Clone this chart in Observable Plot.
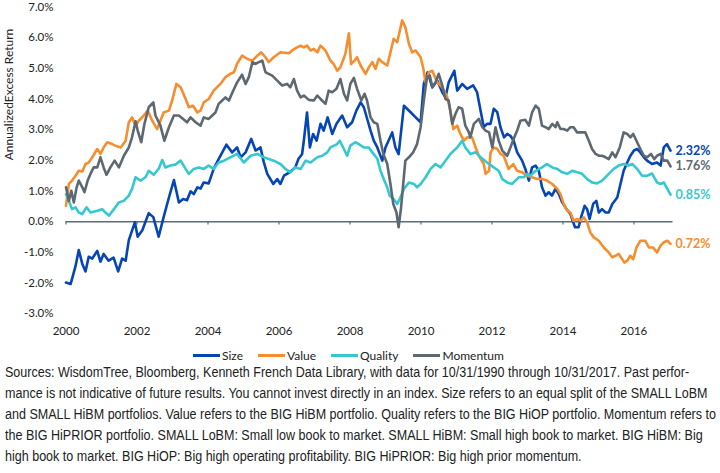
<!DOCTYPE html>
<html>
<head>
<meta charset="utf-8">
<script src="https://cdn.jsdelivr.net/npm/d3@7"></script>
<script src="https://cdn.jsdelivr.net/npm/@observablehq/plot@0.6"></script>
<style>
  html, body { margin: 0; padding: 0; background: #fff; }
  #wrap { position: relative; width: 720px; height: 473px; overflow: hidden; font-family: Lato, "Open Sans", sans-serif; }
  #legend { position: absolute; top: 345px; left: 193px; height: 20px; display: flex; align-items: center; font-size: 12px; color: #222; }
  .item { display: flex; align-items: center; margin-right: 15px; }
  .sw { width: 27px; height: 3px; margin-right: 2px; }
  #caption { position: absolute; top: 362px; left: 5px; transform-origin: 0 0; font-family: "Liberation Sans Narrow", "Arial Narrow", "Liberation Sans", Arial, sans-serif; font-size: 14px; line-height: 21px; color: #222; }
  #caption div { white-space: nowrap; }
</style>
</head>
<body>
<div id="wrap">
  <div id="chart"></div>
  <div id="legend"></div>
  <div id="caption"></div>
</div>
<script>
// ---- data (decimal years, annualized excess return in %) ----
const seriesNames = ["Size", "Value", "Quality", "Momentum"];
const seriesColors = ["#0645B4", "#F68D2E", "#36C8D0", "#5E6870"];
const endLabels = ["2.32%", "0.72%", "0.85%", "1.76%"];
const xTicks = [2000, 2002, 2004, 2006, 2008, 2010, 2012, 2014, 2016];
const yTicks = [-3, -2, -1, 0, 1, 2, 3, 4, 5, 6, 7];
const yTitle = "AnnualizedExcess Return";

const sizeDates = [2000.00,2000.13,2000.27,2000.36,2000.46,2000.55,2000.64,2000.74,2000.88,2000.97,2001.06,2001.20,2001.34,2001.47,2001.58,2001.68,2001.77,2001.94,2002.02,2002.15,2002.33,2002.46,2002.61,2002.75,2002.90,2003.04,2003.18,2003.30,2003.41,2003.51,2003.60,2003.70,2003.79,2003.88,2004.02,2004.16,2004.30,2004.52,2004.68,2004.82,2004.92,2005.06,2005.22,2005.34,2005.48,2005.57,2005.67,2005.84,2005.95,2006.04,2006.14,2006.30,2006.46,2006.55,2006.65,2006.70,2006.79,2006.87,2006.96,2007.06,2007.17,2007.26,2007.37,2007.50,2007.62,2007.78,2007.92,2008.06,2008.18,2008.30,2008.39,2008.50,2008.58,2008.67,2008.77,2008.91,2009.00,2009.19,2009.28,2009.37,2009.52,2009.68,2009.85,2009.99,2010.08,2010.19,2010.32,2010.46,2010.60,2010.69,2010.78,2010.94,2011.02,2011.16,2011.30,2011.47,2011.58,2011.68,2011.77,2011.86,2011.96,2012.05,2012.15,2012.24,2012.34,2012.43,2012.52,2012.61,2012.71,2012.85,2012.94,2013.04,2013.13,2013.23,2013.32,2013.41,2013.51,2013.60,2013.69,2013.79,2013.88,2013.98,2014.10,2014.21,2014.29,2014.34,2014.44,2014.51,2014.61,2014.68,2014.75,2014.85,2014.94,2015.01,2015.10,2015.20,2015.29,2015.39,2015.53,2015.62,2015.71,2015.81,2015.90,2016.00,2016.09,2016.18,2016.28,2016.37,2016.51,2016.65,2016.75,2016.84,2016.93,2017.03];
const sizeValues = [-1.98,-2.03,-1.44,-0.92,-1.38,-1.62,-1.14,-1.20,-0.95,-1.30,-1.05,-1.27,-1.17,-1.62,-1.20,-1.27,-0.60,-0.02,-0.49,-0.28,0.28,0.15,-0.49,0.15,0.79,1.36,0.63,0.74,0.70,0.99,0.90,1.12,1.08,1.28,1.25,1.72,2.04,2.51,2.26,2.42,2.10,2.26,2.70,2.32,2.42,1.95,1.56,1.23,1.39,1.23,1.50,1.61,1.77,2.05,2.20,2.64,3.56,2.42,2.86,2.64,3.19,2.97,3.40,2.86,3.19,3.46,3.08,3.24,3.62,3.89,3.73,3.29,2.97,2.64,2.42,1.99,2.42,2.91,2.42,2.20,3.78,3.60,3.40,3.24,4.49,4.87,4.38,4.60,4.22,4.05,4.54,4.92,4.27,4.49,4.33,4.44,4.22,3.62,3.08,3.19,3.19,3.68,3.57,3.08,2.75,2.86,2.80,2.64,2.26,1.99,1.72,1.34,1.77,1.83,1.66,1.12,0.85,0.96,0.85,1.07,0.91,0.63,0.41,0.25,-0.02,-0.18,-0.18,0.14,0.52,0.41,0.09,0.58,0.68,0.30,0.41,0.30,0.30,0.58,0.79,1.23,1.66,1.93,2.15,2.32,2.37,2.26,2.10,1.99,1.88,1.93,1.83,2.42,2.53,2.32];

const valueDates = [2000.00,2000.08,2000.17,2000.27,2000.36,2000.46,2000.55,2000.64,2000.74,2000.88,2000.97,2001.06,2001.16,2001.30,2001.39,2001.54,2001.68,2001.77,2001.86,2001.96,2002.05,2002.19,2002.30,2002.43,2002.57,2002.66,2002.75,2002.90,2002.99,2003.11,2003.23,2003.37,2003.46,2003.58,2003.70,2003.79,2003.88,2004.02,2004.16,2004.35,2004.49,2004.63,2004.73,2004.82,2004.96,2005.10,2005.25,2005.39,2005.50,2005.62,2005.71,2005.85,2006.04,2006.28,2006.37,2006.51,2006.61,2006.70,2006.79,2006.89,2006.98,2007.08,2007.17,2007.31,2007.45,2007.54,2007.64,2007.73,2007.87,2007.97,2008.03,2008.13,2008.20,2008.30,2008.44,2008.53,2008.63,2008.72,2008.81,2008.91,2009.05,2009.14,2009.23,2009.33,2009.47,2009.56,2009.66,2009.75,2009.85,2009.99,2010.06,2010.13,2010.22,2010.32,2010.46,2010.60,2010.74,2010.83,2010.91,2011.02,2011.11,2011.21,2011.30,2011.44,2011.54,2011.63,2011.77,2011.82,2011.92,2011.96,2012.05,2012.15,2012.24,2012.33,2012.47,2012.60,2012.71,2012.85,2012.99,2013.13,2013.27,2013.41,2013.55,2013.70,2013.84,2013.93,2014.02,2014.12,2014.21,2014.30,2014.40,2014.49,2014.59,2014.68,2014.77,2014.87,2015.01,2015.15,2015.29,2015.39,2015.48,2015.57,2015.67,2015.73,2015.81,2015.90,2015.98,2016.07,2016.18,2016.32,2016.42,2016.54,2016.65,2016.75,2016.84,2016.94,2017.03];
const valueValues = [0.52,1.23,1.34,1.50,1.66,1.64,1.88,1.93,2.10,2.37,2.21,2.42,2.59,2.53,2.48,2.42,2.64,3.24,3.40,3.13,3.29,3.46,3.62,3.29,3.02,3.29,3.56,3.62,3.95,4.49,4.38,4.00,3.73,3.78,3.56,3.62,3.89,4.00,4.27,4.49,4.71,4.82,4.87,5.15,5.41,5.31,5.25,5.41,5.52,5.36,5.20,5.36,5.52,5.49,5.58,5.68,5.74,5.68,5.74,5.58,5.63,5.52,5.74,5.58,5.25,5.14,4.92,5.03,5.47,6.14,5.14,5.25,5.36,5.09,4.82,5.03,5.20,4.98,5.31,5.20,5.09,5.52,5.96,5.85,6.56,6.34,5.80,5.52,5.58,5.36,5.03,4.54,4.87,4.92,4.54,4.38,4.05,3.62,3.02,3.13,2.86,2.64,2.75,2.75,2.42,2.15,1.88,1.56,1.66,2.26,2.42,2.37,2.21,2.15,1.72,1.88,1.66,1.61,1.50,1.45,1.39,1.39,1.34,1.23,1.07,0.90,0.58,0.36,0.30,0.03,0.09,0.03,0.14,-0.02,-0.35,-0.51,-0.62,-0.84,-1.00,-1.16,-1.11,-1.05,-1.22,-1.33,-1.27,-1.11,-1.22,-0.84,-0.62,-0.62,-0.84,-0.84,-1.00,-0.78,-0.67,-0.62,-0.72];

const qualityDates = [2000.00,2000.08,2000.17,2000.27,2000.36,2000.46,2000.58,2000.69,2000.88,2001.02,2001.11,2001.21,2001.35,2001.49,2001.63,2001.77,2001.86,2001.96,2002.10,2002.24,2002.33,2002.47,2002.61,2002.71,2002.80,2002.94,2003.08,2003.23,2003.37,2003.46,2003.60,2003.74,2003.88,2004.02,2004.16,2004.30,2004.45,2004.63,2004.82,2005.01,2005.20,2005.39,2005.57,2005.85,2006.04,2006.18,2006.32,2006.46,2006.61,2006.75,2006.89,2007.08,2007.22,2007.36,2007.45,2007.64,2007.71,2007.83,2007.92,2008.01,2008.15,2008.25,2008.39,2008.53,2008.63,2008.77,2008.86,2008.95,2009.05,2009.12,2009.23,2009.33,2009.42,2009.52,2009.66,2009.80,2009.89,2009.99,2010.13,2010.27,2010.41,2010.55,2010.69,2010.83,2011.02,2011.16,2011.25,2011.39,2011.54,2011.68,2011.86,2012.05,2012.19,2012.29,2012.43,2012.57,2012.66,2012.76,2012.90,2012.99,2013.08,2013.23,2013.41,2013.55,2013.70,2013.84,2013.98,2014.12,2014.26,2014.40,2014.54,2014.68,2014.82,2014.96,2015.10,2015.20,2015.29,2015.43,2015.57,2015.71,2015.85,2015.95,2016.09,2016.23,2016.37,2016.51,2016.65,2016.75,2016.84,2016.94,2017.03];
const qualityValues = [0.90,0.68,0.41,0.47,0.30,0.25,0.47,0.30,0.36,0.41,0.30,0.20,0.41,0.63,0.68,0.85,1.07,1.45,1.34,1.45,1.66,1.53,1.72,2.01,1.77,1.83,1.86,1.99,1.72,1.56,1.72,1.77,1.72,1.83,1.72,1.93,1.99,2.10,2.21,1.93,2.15,2.21,2.10,1.99,1.88,1.72,1.61,1.77,1.72,1.99,1.93,2.10,2.15,2.26,2.42,2.53,2.64,2.37,2.15,2.48,2.59,2.53,2.42,2.42,2.26,2.05,1.66,1.39,1.12,0.85,0.74,0.58,0.79,1.07,1.28,1.23,1.12,1.23,1.45,1.72,1.88,1.77,1.99,2.21,2.42,2.64,2.42,2.21,2.26,2.10,1.93,1.77,1.66,1.39,1.28,1.23,1.34,1.45,1.45,1.56,1.50,1.66,1.77,1.88,1.77,1.72,1.61,1.56,1.66,1.61,1.56,1.39,1.28,1.25,1.34,1.45,1.56,1.72,1.83,1.88,1.83,1.88,1.72,1.50,1.50,1.57,1.28,1.23,1.28,1.07,0.88];

const momentumDates = [2000.00,2000.08,2000.15,2000.22,2000.30,2000.36,2000.46,2000.52,2000.61,2000.71,2000.78,2000.88,2000.97,2001.06,2001.14,2001.25,2001.37,2001.49,2001.63,2001.77,2001.86,2001.96,2002.02,2002.12,2002.21,2002.33,2002.46,2002.52,2002.66,2002.77,2002.90,2003.04,2003.18,2003.30,2003.41,2003.51,2003.65,2003.79,2003.88,2004.02,2004.12,2004.21,2004.30,2004.40,2004.49,2004.59,2004.71,2004.82,2004.96,2005.06,2005.15,2005.25,2005.34,2005.43,2005.53,2005.62,2005.71,2005.81,2005.95,2006.09,2006.23,2006.32,2006.42,2006.51,2006.61,2006.70,2006.84,2006.98,2007.08,2007.17,2007.31,2007.40,2007.50,2007.62,2007.73,2007.83,2007.92,2008.01,2008.11,2008.20,2008.32,2008.41,2008.48,2008.58,2008.67,2008.77,2008.86,2008.94,2009.05,2009.14,2009.22,2009.31,2009.37,2009.44,2009.50,2009.56,2009.66,2009.78,2009.89,2009.99,2010.08,2010.17,2010.25,2010.32,2010.41,2010.50,2010.60,2010.69,2010.78,2010.88,2010.97,2011.06,2011.16,2011.25,2011.35,2011.39,2011.49,2011.63,2011.73,2011.82,2011.92,2012.01,2012.10,2012.19,2012.29,2012.43,2012.52,2012.61,2012.71,2012.80,2012.94,2013.04,2013.13,2013.23,2013.32,2013.41,2013.51,2013.60,2013.70,2013.79,2013.84,2013.93,2014.02,2014.12,2014.21,2014.30,2014.40,2014.54,2014.63,2014.73,2014.82,2014.92,2015.01,2015.10,2015.20,2015.29,2015.39,2015.48,2015.60,2015.71,2015.81,2015.90,2015.98,2016.07,2016.18,2016.28,2016.37,2016.48,2016.57,2016.65,2016.75,2016.84,2016.94,2017.03];
const momentumValues = [1.12,0.68,1.01,0.63,1.12,1.34,1.12,0.96,1.34,1.61,1.77,1.77,2.10,1.77,1.53,1.77,1.99,1.77,2.15,2.42,2.75,3.27,2.97,2.59,3.19,3.73,3.89,3.46,3.13,2.64,3.08,3.46,3.46,3.35,3.24,3.40,3.24,3.13,3.40,3.35,3.46,3.56,3.84,3.95,4.05,3.95,4.27,4.54,4.79,4.49,4.71,5.20,5.14,5.20,5.25,4.87,4.82,4.76,4.60,4.44,4.49,4.38,4.65,4.27,4.05,4.11,3.97,3.95,4.11,4.00,3.84,4.27,4.22,4.33,4.65,4.17,3.95,4.49,4.69,4.33,3.95,4.17,3.95,3.40,3.24,3.19,2.64,2.21,1.88,1.23,0.58,0.30,-0.18,0.47,1.23,1.99,2.10,2.26,2.53,3.08,3.95,4.71,4.76,4.38,4.54,4.82,4.44,4.00,3.95,3.19,3.51,3.73,3.68,3.13,2.91,2.75,3.19,3.35,3.08,2.97,2.91,2.42,3.08,2.64,2.32,2.15,2.42,2.70,2.97,3.29,3.32,3.13,3.56,3.78,3.68,3.13,3.08,3.02,3.19,3.08,3.24,3.02,3.02,2.97,3.08,3.08,2.91,2.91,2.91,2.64,2.37,2.21,2.15,2.15,2.10,2.04,2.26,2.10,2.42,2.91,2.86,2.75,2.86,2.64,2.37,2.15,2.10,2.21,2.04,2.15,2.21,1.99,1.99,1.80];

const captionLines = [
  "Sources: WisdomTree, Bloomberg, Kenneth French Data Library, with data for 10/31/1990 through 10/31/2017. Past perfor-",
  "mance is not indicative of future results. You cannot invest directly in an index. Size refers to an equal split of the SMALL LoBM",
  "and SMALL HiBM portfolios. Value refers to the BIG HiBM portfolio. Quality refers to the BIG HiOP portfolio. Momentum refers to",
  "the BIG HiPRIOR portfolio. SMALL LoBM: Small low book to market. SMALL HiBM: Small high book to market. BIG HiBM: Big",
  "high book to market. BIG HiOP: Big high operating profitability. BIG HiPRIOR: Big high prior momentum."
];

// ---- build table ----
const allDates = [sizeDates, valueDates, qualityDates, momentumDates];
const allValues = [sizeValues, valueValues, qualityValues, momentumValues];
const rows = [];
seriesNames.forEach((name, k) => {
  allDates[k].forEach((t, i) => rows.push({series: name, t, v: allValues[k][i]}));
});
const ends = seriesNames.map((name, k) => ({
  series: name,
  t: allDates[k][allDates[k].length - 1],
  v: allValues[k][allValues[k].length - 1],
  label: endLabels[k],
  color: seriesColors[k]
}));

const axisColor = "#5f6b73";
const chart = Plot.plot({
  width: 720,
  height: 340,
  marginLeft: 65.5,
  marginRight: 47.5,
  marginTop: 6.4,
  marginBottom: 26.7,
  x: {domain: [2000, 2017.1]},
  y: {domain: [-3, 7]},
  color: {domain: seriesNames, range: seriesColors},
  style: {fontFamily: "Lato, 'Open Sans', sans-serif", fontSize: "11.5px", color: "#222", background: "white", overflow: "visible"},
  marks: [
    Plot.axisY({ticks: yTicks, tickSize: 0, tickPadding: 12.5, tickFormat: d => d.toFixed(1) + "%", label: null}),
    Plot.axisX({ticks: xTicks, tickSize: 0, tickPadding: 13, tickFormat: d => String(d), label: null}),
    Plot.ruleY([0], {stroke: axisColor, strokeWidth: 1.4}),
    Plot.ruleX(xTicks, {x: d => d, y1: 0, y2: -0.11, stroke: axisColor, strokeWidth: 1.2}),
    Plot.line(rows, {x: "t", y: "v", z: "series", stroke: "series", strokeWidth: 2.6, strokeLinejoin: "round", strokeLinecap: "round"}),
    Plot.text(ends, {x: "t", y: "v", text: "label", fill: "color", dx: 5, textAnchor: "start", fontWeight: "bold", fontSize: 12.5}),
    Plot.text([yTitle], {frameAnchor: "left", rotate: -90, dx: -57, fontSize: 12, fill: "#222"})
  ]
});
document.getElementById("chart").appendChild(chart);

// ---- legend ----
const legend = document.getElementById("legend");
seriesNames.forEach((name, k) => {
  const item = document.createElement("div");
  item.className = "item";
  const sw = document.createElement("div");
  sw.className = "sw";
  sw.style.background = seriesColors[k];
  const lab = document.createElement("span");
  lab.textContent = name;
  item.appendChild(sw);
  item.appendChild(lab);
  legend.appendChild(item);
});

// ---- caption ----
const cap = document.getElementById("caption");
captionLines.forEach(line => {
  const d = document.createElement("div");
  d.textContent = line;
  cap.appendChild(d);
});
const ref = cap.children[2].getBoundingClientRect().width;
if (ref > 0) {
  const k = 711 / ref;
  cap.style.transform = `scaleX(${k})`;
}
</script>
</body>
</html>
